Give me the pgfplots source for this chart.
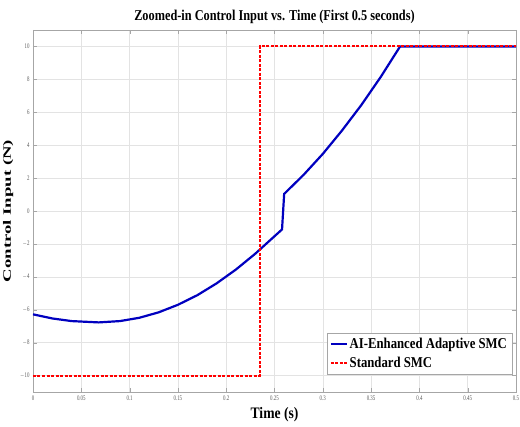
\documentclass[border=0pt]{standalone}
\usepackage{pgfplots}
\pgfplotsset{compat=1.18}
\usepackage{fontspec}
\setmainfont{Liberation Serif}
\newcommand{\sq}[1]{\scalebox{0.7}[1]{#1}}
\begin{document}
\begin{tikzpicture}
\begin{axis}[
  name=ax,
  scale only axis,
  width=483pt, height=362pt,
  xmin=0, xmax=0.5, ymin=-11, ymax=11,
  xtick={0,0.05,...,0.5},
  ytick={-10,-8,...,10},
  xticklabels={\sq{0},\sq{0.05},\sq{0.1},\sq{0.15},\sq{0.2},\sq{0.25},\sq{0.3},\sq{0.35},\sq{0.4},\sq{0.45},\sq{0.5}},
  yticklabels={\sq{$-$10},\sq{$-$8},\sq{$-$6},\sq{$-$4},\sq{$-$2},\sq{0},\sq{2},\sq{4},\sq{6},\sq{8},\sq{10}},
  xticklabel style={font=\fontsize{7}{8}\selectfont, text=gray!70!black},
  yticklabel style={font=\fontsize{7}{8}\selectfont, text=gray!70!black},
  grid=major,
  grid style={gray!22, line width=0.5pt},
  axis line style={gray!70},
  tick style={gray!70},
  tick align=inside,
  xlabel={\scalebox{0.85}[1]{\textbf{Time (s)}}},
  ylabel={\scalebox{1.25}[0.75]{\textbf{Control Input (N)}}},
  xlabel style={font=\fontsize{16}{17}\selectfont, yshift=0pt},
  ylabel style={font=\fontsize{15}{16}\selectfont, yshift=0pt},
  title={\scalebox{0.82}[1]{\textbf{Zoomed-in Control Input vs. Time (First 0.5 seconds)}}},
  title style={font=\fontsize{15}{16}\selectfont, yshift=-3pt},
  legend style={at={(0.992,0.05)}, anchor=south east, font=\fontsize{15}{16}\selectfont\bfseries, draw=gray!70, inner sep=3pt, row sep=3pt, legend cell align=left},
  legend image code/.code={\draw[#1] (0cm,0cm) -- (0.55cm,0cm);},
]
\addplot[blue!75!black, line width=2.2pt] coordinates {
(0,-6.28) (0.02,-6.53) (0.04,-6.69) (0.068,-6.77) (0.09,-6.69) (0.11,-6.49) (0.13,-6.16) (0.15,-5.70) (0.17,-5.12) (0.19,-4.40) (0.21,-3.56) (0.23,-2.60) (0.245,-1.80) (0.2578,-1.12) (0.2600,1.04) (0.28,2.19) (0.30,3.47) (0.32,4.90) (0.34,6.45) (0.36,8.15) (0.38,10) (0.5,10)
};
\addlegendentry{\scalebox{0.85}[1]{AI-Enhanced Adaptive SMC}}
\addplot[red, line width=2pt, dash pattern=on 3pt off 1.5pt] coordinates {
(0,-10) (0.2347,-10) (0.2347,10) (0.5,10)
};
\addlegendentry{\scalebox{0.85}[1]{Standard SMC}}
\end{axis}
\pgfresetboundingbox
\path[use as bounding box] ([xshift=-33pt,yshift=-34pt]ax.south west) rectangle ([xshift=4pt,yshift=30pt]ax.north east);
\end{tikzpicture}
\end{document}
